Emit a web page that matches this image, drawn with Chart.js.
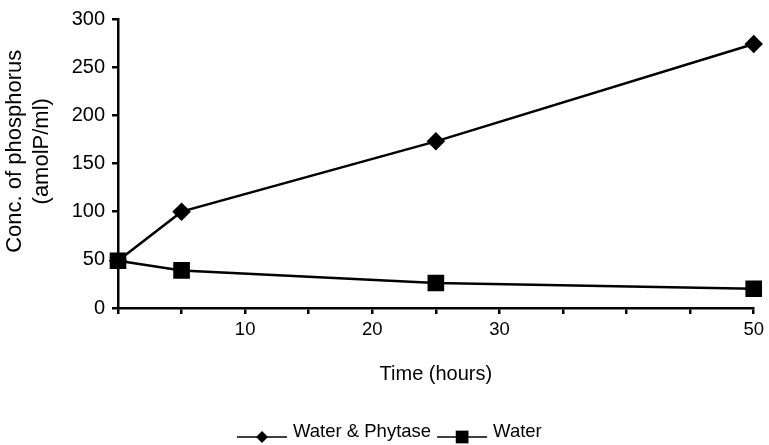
<!DOCTYPE html>
<html>
<head>
<meta charset="utf-8">
<script src="https://cdn.jsdelivr.net/npm/chart.js@4/dist/chart.umd.min.js"></script>
<style>
html, body { margin: 0; padding: 0; background: #fff; }
#wrap { width: 769px; height: 445px; }
</style>
</head>
<body>
<div id="wrap"><canvas id="chart" width="769" height="445"></canvas></div>
<script>
// values
var timeHours = [0, 5, 25, 50];
var waterPhytase = [49, 100, 173, 274];
var water = [49, 39, 26, 20];
var xTickLabels = [10, 20, 30, 50];

var FONT = '"Liberation Sans", Arial, sans-serif';

function pairs(ys) {
    return timeHours.map(function(t, i) { return {x: t, y: ys[i]}; });
}

// old-style legend: short line with the marker on it, then the label
var bottomLegend = {
    id: 'bottomLegend',
    afterDraw: function(chart) {
        var ctx = chart.ctx;
        var x = 237, y = 437;
        ctx.save();
        ctx.font = '18.5px ' + FONT;
        ctx.textBaseline = 'middle';
        chart.data.datasets.forEach(function(ds) {
            ctx.strokeStyle = '#000';
            ctx.lineWidth = 1.5;
            ctx.beginPath();
            ctx.moveTo(x, y);
            ctx.lineTo(x + 50, y);
            ctx.stroke();
            ctx.fillStyle = '#000';
            Chart.helpers.drawPoint(ctx, {pointStyle: ds.pointStyle, radius: ds.legendRadius, borderWidth: 0}, x + 25, y);
            ctx.fillText(ds.label, x + 56, y - 5);
            x += 56 + ctx.measureText(ds.label).width + 6;
        });
        ctx.restore();
    }
};

var ctx = document.getElementById('chart').getContext('2d');
new Chart(ctx, {
    type: 'line',
    data: {
        datasets: [
            {
                label: 'Water & Phytase',
                data: pairs(waterPhytase),
                borderColor: '#000',
                backgroundColor: '#000',
                borderWidth: 2.5,
                pointStyle: 'rectRot',
                pointRadius: 7.5,
                legendRadius: 6,
                clip: false,
            },
            {
                label: 'Water',
                data: pairs(water),
                borderColor: '#000',
                backgroundColor: '#000',
                borderWidth: 2.5,
                pointStyle: 'rect',
                pointRadius: 10,
                legendRadius: 9,
                clip: false,
            },
        ]
    },
    options: {
        responsive: false,
        animation: false,
        layout: { padding: { left: 0, right: 12, top: 19, bottom: 57 } },
        plugins: {
            legend: { display: false },
            tooltip: { enabled: false },
        },
        scales: {
            x: {
                type: 'linear',
                min: 0,
                max: 50,
                afterFit: function(s) { s.height = 80; },
                ticks: {
                    stepSize: 5,
                    color: '#000',
                    font: { family: FONT, size: 18.5 },
                    padding: 5,
                    maxRotation: 0,
                    autoSkip: false,
                    callback: function(v) { return xTickLabels.indexOf(v) >= 0 ? String(v) : ''; }
                },
                grid: { drawOnChartArea: false, color: '#000', lineWidth: 2.5, tickLength: 6 },
                border: { color: '#000', width: 2.5 },
                title: {
                    display: true,
                    text: 'Time (hours)',
                    color: '#000',
                    font: { family: FONT, size: 20 },
                    padding: { top: 0, bottom: 2 },
                }
            },
            y: {
                min: 0,
                max: 300,
                afterFit: function(s) { s.width = 118; },
                ticks: {
                    stepSize: 50,
                    color: '#000',
                    font: { family: FONT, size: 20 },
                    padding: 7,
                },
                grid: { drawOnChartArea: false, color: '#000', lineWidth: 2.5, tickLength: 6 },
                border: { color: '#000', width: 2.5 },
                title: {
                    display: true,
                    // leading spaces nudge the rotated title a little up, as in the picture
                    text: ['    Conc. of phosphorus', '    (amolP/ml)'],
                    color: '#000',
                    font: { family: FONT, size: 22, lineHeight: 1.2 },
                    padding: { top: 2, bottom: 0 },
                }
            }
        }
    },
    plugins: [bottomLegend]
});
</script>
</body>
</html>
